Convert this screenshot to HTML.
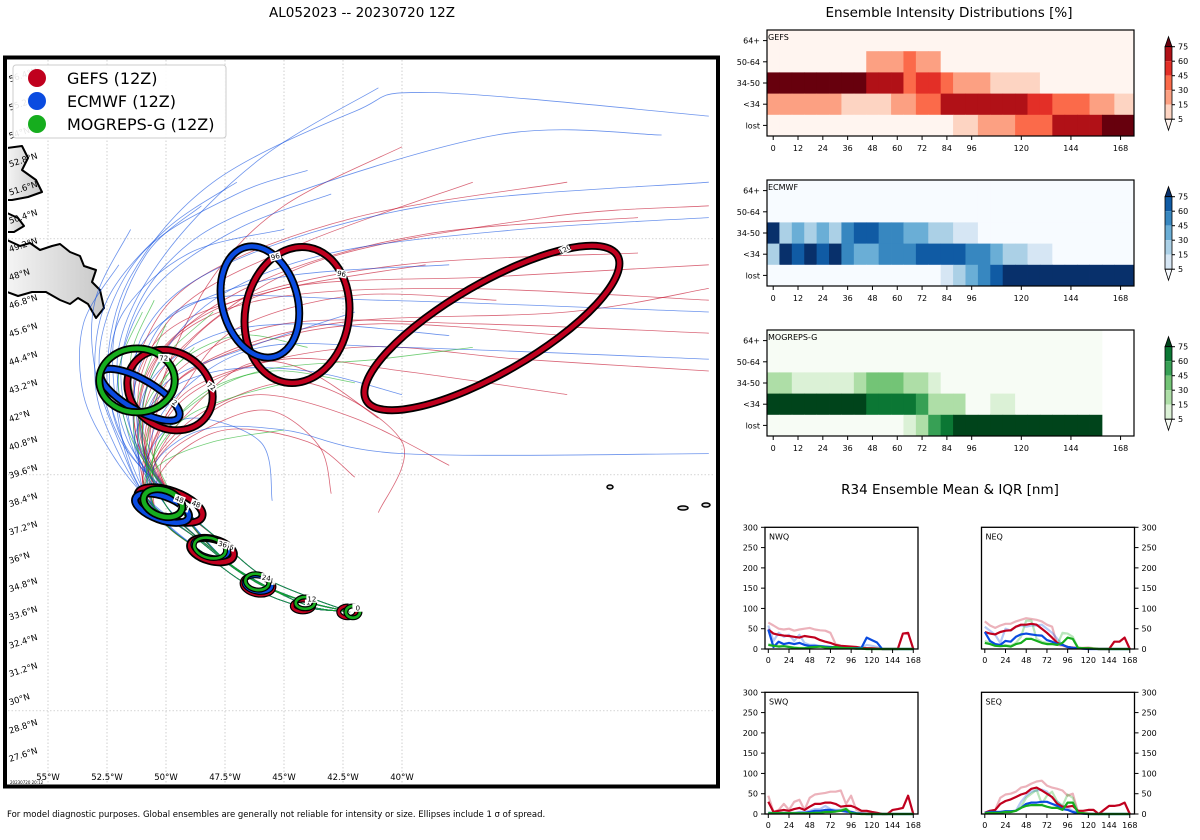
<!DOCTYPE html>
<html><head><meta charset="utf-8"><style>
html,body{margin:0;padding:0;background:#fff;}
svg{display:block;font-family:"DejaVu Sans","Liberation Sans",sans-serif;}
</style></head><body>
<svg id="root" width="1200" height="840" viewBox="0 0 1200 840" xmlns="http://www.w3.org/2000/svg">
<text x="362" y="17" font-size="13.5" text-anchor="middle">AL052023 -- 20230720 12Z</text>
<text x="949" y="17" font-size="13.5" text-anchor="middle">Ensemble Intensity Distributions [%]</text>
<text x="950" y="494" font-size="13.5" text-anchor="middle">R34 Ensemble Mean &amp; IQR [nm]</text>
<text x="7" y="817" font-size="8.5">For model diagnostic purposes. Global ensembles are generally not reliable for intensity or size. Ellipses include 1 σ of spread.</text>
<defs><clipPath id="mapclip"><rect x="8" y="60" width="707" height="725"/></clipPath>
<linearGradient id="landg" x1="0" y1="0" x2="1" y2="0"><stop offset="0" stop-color="#f4f4f4"/><stop offset="1" stop-color="#c8c8c8"/></linearGradient></defs>
<g id="map"></g>
<g id="heat"></g>
<g id="r34"></g>
</svg>
<script>
// ---------- DATA ----------
const COL = {G:'#c0001e', E:'#0a4be0', M:'#16ad1e'};
const prefixA = [[-42.2,33.8],[-44,34.2],[-46.1,35],[-48,36.4],[-50,38.3]];
const prefixB = [[-42.2,33.8],[-44.2,34.0],[-46.3,34.8],[-48.3,36.2],[-50.4,38.0]];
const prefixC = [[-42.2,33.8],[-43.9,34.4],[-45.9,35.3],[-47.7,36.8],[-49.7,38.6]];
const prefixD = [[-42.2,33.8],[-44.3,34.3],[-46.6,35.3],[-48.7,36.9],[-50.8,38.6]];
const prefixE = [[-42.2,33.8],[-43.8,34.0],[-45.6,34.8],[-47.5,36.0],[-49.3,38.0]];
const gefsTracks = [
 [[-51,41],[-51,44],[-49,47],[-44,49.5],[-37,52]],
 [[-51.2,41],[-50.5,44.5],[-47,47],[-40,48.5],[-30,49]],
 [[-51,41.5],[-50,45],[-46,47],[-38,47.5],[-27,47]],
 [[-50.8,41],[-49.5,44],[-45,46],[-37,46],[-27,45.6]],
 [[-50.5,40.5],[-49,43],[-45,44.5],[-40,44],[-33,43]],
 [[-50.5,40],[-48.5,42],[-46,43],[-42,42],[-38,40]],
 [[-50.7,41],[-50,44],[-48,48],[-45,51],[-40,53.5]],
 [[-51,41],[-49.8,44.5],[-44,48.5],[-34,50.5],[-27,51]],
 [[-50.3,40.5],[-48,42.5],[-44,43.5],[-40,41],[-41,38]],
 [[-50.6,41],[-49,44],[-43,46],[-33,46.5],[-27,47.5]],
 [[-51.3,41.5],[-51,45],[-48.5,48],[-42,50.5],[-33,52]],
 [[-50,40],[-47.5,41.5],[-44,41],[-42,39.5]],
 [[-50.9,41.2],[-49.2,45],[-45,47.5],[-36,48],[-27,48.5]],
 [[-50.6,40.8],[-48.5,43.5],[-42,45],[-35,44.5],[-27,44]],
 [[-51.1,41.3],[-50.2,44.8],[-46,47.8],[-39,49.8],[-30,50.5]],
 [[-50.9,40.8],[-49.6,43.5],[-46,45.2],[-41,46],[-33,45.5]],
 [[-50.4,40.3],[-48.8,42.5],[-46.5,44.3],[-44,44],[-41,42]],
 [[-51.2,41],[-51.2,43.8],[-49.5,46],[-45,47.5],[-39,48.5]],
 [[-50.7,40.6],[-49.3,43.2],[-47,45.8],[-42,47.2],[-36,47]],
 [[-50.2,40.1],[-47.8,41.8],[-45.5,42.3],[-43.5,40.8],[-43,38.8]]
];
const ecmwfTracks = [
 [[-51.5,41],[-52,45],[-50,49],[-46,53],[-41,56]],
 [[-51.8,41],[-52.5,44],[-51.5,48],[-48,52],[-42,55],[-38.8,55.8],[-27,54.8]],
 [[-51.5,41.5],[-51.8,45],[-50,48.5],[-46,51],[-36,54],[-29,54]],
 [[-52,41],[-53,44],[-53,47],[-51.5,50]],
 [[-51,41],[-50.5,44],[-48,47],[-43,49],[-35,50],[-27,50.5]],
 [[-51.3,41],[-51,44.5],[-48.5,47],[-41,47],[-27,46.5]],
 [[-50.8,40.5],[-49.5,43],[-46,45],[-40,45],[-27,44.5]],
 [[-50.5,40],[-48.5,41.5],[-45,41.5],[-40,40.5],[-27,40.5]],
 [[-52.3,40.5],[-53.5,43],[-53.5,46],[-52,48.5]],
 [[-51.6,41],[-52,44],[-50.5,47.5],[-47,50],[-43,51.5]],
 [[-51,41],[-50,43.5],[-46.5,45],[-42,46.5]],
 [[-50.7,40.5],[-49,42],[-46,41],[-45.5,38.5]],
 [[-52,41.2],[-52.8,45],[-51,49],[-47,51.5],[-44,52.5]],
 [[-51.2,41.3],[-51,45.5],[-47.5,48.5],[-39,51],[-27,52]],
 [[-51.7,40.8],[-52.4,43.5],[-51.8,46.5],[-49,49],[-45,50]],
 [[-51.4,41.1],[-51.5,44.2],[-49.5,46.5],[-45,48],[-38,48.5]],
 [[-52.1,40.7],[-53,43.5],[-52.5,47],[-50,50],[-47,52]],
 [[-51.1,40.8],[-50.7,43.5],[-48,45.5],[-44,46],[-38,45.5]],
 [[-51.9,41.3],[-52.2,45.5],[-50.8,49],[-48.5,51]],
 [[-51.3,40.6],[-50.4,42.8],[-47.8,44],[-44,44],[-40,43]]
];
const mogTracks = [
 [[-51,41],[-50.5,44],[-48,46.5]],
 [[-50.5,40.5],[-49,42.5],[-46,44],[-41,44.5],[-37,45]],
 [[-51.3,41],[-51,43.5],[-50,46]],
 [[-50.3,40],[-48,41],[-45,41.5]],
 [[-51,41.5],[-51.5,44.5],[-50.5,47]],
 [[-50.5,40.5],[-48.5,43],[-45.5,44],[-42,43.5]],
 [[-50.8,41],[-49.8,44],[-47,45.5],[-44,45]],
 [[-51.5,41.2],[-52,44],[-51,46.5]],
 [[-50.6,40.2],[-49.2,42],[-46.8,43],[-43.5,43.8]],
 [[-51.1,40.9],[-50.6,43],[-48.8,45]]
];
const ellModel = ['G','G','E','G','E','M','G','E','M','G','E','M','G','E','M','G','M','G','M'];
const ellHour  = [120,96,96,72,72,72,48,48,48,36,36,36,24,24,24,12,12,0,0];
const ellLon = [-36.19,-44.45,-46.02,-49.83,-51.1,-51.23,-49.83,-50.17,-50.13,-48.05,-48.1,-48.14,-46.1,-46.1,-46.14,-44.2,-44.1,-42.3,-42.08];
const ellLat = [45.82,46.37,46.92,43.19,42.99,43.6,38.32,38.19,38.4,36.41,36.5,36.5,34.93,34.97,35.06,34.04,34.17,33.79,33.79];
const ellRx = [6.14,2.2,1.6,1.9,1.9,1.6,1.45,1.2,0.85,0.95,0.78,0.68,0.68,0.6,0.5,0.45,0.4,0.38,0.3];
const ellRy = [1.9,2.9,2.4,1.6,0.64,1.35,0.6,0.5,0.55,0.47,0.38,0.42,0.42,0.34,0.34,0.25,0.25,0.25,0.25];
const ellRot = [-30,10,-15,35,30,0,20,20,20,15,15,15,10,10,10,0,0,0,0];
const latTicks = [27.6,28.8,30,31.2,32.4,33.6,34.8,36,37.2,38.4,39.6,40.8,42,43.2,44.4,45.6,46.8,48,49.2,50.4,51.6,52.8,54,55.2,56.4];
const lonTicks = [-55,-52.5,-50,-47.5,-45,-42.5,-40];

const heatRows = ['64+','50-64','34-50','<34','lost'];
const heatTicks = [0,12,24,36,48,60,72,84,96,120,144,168];
const gefs64 = [0,0,0,0,0,0,0,0,0,0,0,0,0,0,0,0,0,0,0,0,0,0,0,0,0,0,0,0,0];
const gefs50 = [0,0,0,0,0,0,0,0,20,20,20,35,20,20,0,0,0,0,0,0,0,0,0,0,0,0,0,0,0];
const gefs34 = [80,80,80,80,80,80,80,80,65,65,65,35,50,50,35,20,20,20,10,10,10,10,0,0,0,0,0,0,0];
const gefsTS = [20,20,20,20,20,20,10,10,10,10,20,20,35,35,65,65,65,65,65,65,65,50,50,35,35,35,20,20,10];
const gefsLost=[0,0,0,0,0,0,0,0,0,0,0,0,0,0,0,10,10,20,20,20,35,35,35,65,65,65,65,80,80];
const ecm64 = [0,0,0,0,0,0,0,0,0,0,0,0,0,0,0,0,0,0,0,0,0,0,0,0,0,0,0,0,0];
const ecm50 = [0,0,0,0,0,0,0,0,0,0,0,0,0,0,0,0,0,0,0,0,0,0,0,0,0,0,0,0,0];
const ecm34 = [80,20,35,20,35,20,50,65,65,50,50,35,35,20,20,10,10,0,0,0,0,0,0,0,0,0,0,0,0];
const ecmTS = [20,80,65,80,65,80,50,35,35,50,50,50,65,65,65,65,50,50,35,20,20,10,10,0,0,0,0,0,0];
const ecmLost=[0,0,0,0,0,0,0,0,0,0,0,0,0,0,10,20,35,50,65,80,80,80,80,80,80,80,80,80,80];
const mog64 = [0,0,0,0,0,0,0,0,0,0,0,0,0,0,0,0,0,0,0,0,0,0,0,0,0,0,0,null,null];
const mog50 = [0,0,0,0,0,0,0,0,0,0,0,0,0,0,0,0,0,0,0,0,0,0,0,0,0,0,0,null,null];
const mog34 = [20,20,10,10,10,10,10,20,35,35,35,20,20,10,0,0,0,0,0,0,0,0,0,0,0,0,0,null,null];
const mogTS = [80,80,80,80,80,80,80,80,65,65,65,65,50,20,20,20,0,0,10,10,0,0,0,0,0,0,0,null,null];
const mogLost=[0,0,0,0,0,0,0,0,0,0,0,10,20,50,65,80,80,80,80,80,80,80,80,80,80,80,80,null,null];
const cbTicks = [5,15,30,45,60,75];

const r34Hours = [0,6,12,18,24,30,36,42,48,54,60,66,72,78,84,90,96,102,108,114,120,126,132,138,144,150,156,162,168];
const r34Ticks = [0,24,48,72,96,120,144,168];
const r34YTicks = [0,50,100,150,200,250,300];
const nwRed   = [48,38,35,33,32,30,28,32,30,28,22,18,15,10,8,7,6,5,3,2,2,1,0,0,0,0,38,40,0];
const nwRedQ  = [65,58,50,48,50,45,48,50,52,48,46,45,40,12,8,6,5,3,2,2,1,0,0,0,0,0,0,0,0];
const nwBlue  = [48,5,18,12,15,12,15,10,8,8,7,6,5,4,3,2,2,2,3,28,22,16,0,0,0,0,0,0,0];
const nwBlueQ = [58,20,40,30,35,20,35,15,10,10,8,6,5,5,4,3,2,2,3,10,8,5,0,0,0,0,0,0,0];
const nwGrn   = [10,8,6,7,5,3,2,2,4,5,6,4,3,5,3,2,2,1,1,0,0,0,0,0,0,0,0,0,0];
const nwGrnQ  = [12,10,8,8,6,4,3,3,5,6,7,5,4,6,4,3,2,1,1,0,0,0,0,0,0,0,0,0,0];
const neRed   = [42,38,36,42,45,46,55,60,60,62,60,50,40,28,15,10,5,3,2,2,2,1,0,0,0,18,18,28,0];
const neRedQ  = [68,58,52,58,62,62,68,72,76,74,72,68,60,55,10,8,5,4,3,3,4,2,0,0,0,0,0,0,0];
const neBlue  = [42,20,12,10,20,18,30,36,38,36,34,33,22,18,12,10,5,3,2,1,0,0,0,0,0,0,0,0,0];
const neBlueQ = [55,45,35,15,50,45,55,58,55,58,58,60,50,40,25,10,5,3,2,1,0,0,0,0,0,0,0,0,0];
const neGrn   = [15,12,8,7,8,6,12,15,25,25,20,15,12,12,10,15,28,25,3,2,2,1,0,0,0,0,0,0,0];
const neGrnQ  = [20,15,10,8,10,8,15,30,70,70,25,18,15,12,10,40,38,30,3,2,2,1,0,0,0,0,0,0,0];
const swRed   = [30,5,8,10,8,12,15,10,18,25,25,28,28,25,18,20,20,15,8,8,5,3,0,0,10,12,15,45,0];
const swRedQ  = [45,5,10,25,10,30,35,10,40,48,50,52,55,55,58,25,45,10,5,3,2,0,0,0,0,0,0,0,0];
const swBlue  = [2,2,2,2,2,2,3,3,5,8,8,10,10,8,8,6,5,2,1,0,0,0,0,0,0,0,0,0,0];
const swBlueQ = [4,3,3,3,3,3,5,5,8,12,12,20,12,10,10,8,6,3,1,0,0,0,0,0,0,0,0,0,0];
const swGrn   = [2,2,2,2,2,2,2,2,2,3,3,5,5,6,8,12,2,1,0,0,0,0,0,0,0,0,0,0,0];
const swGrnQ  = [3,3,3,3,3,3,3,3,3,4,4,6,6,8,10,15,3,1,0,0,0,0,0,0,0,0,0,0,0];
const seRed   = [3,8,10,25,32,36,42,48,52,62,65,58,50,42,25,18,18,20,8,8,10,10,0,10,20,20,22,28,0];
const seRedQ  = [3,8,10,40,48,50,55,65,68,75,80,82,70,65,62,58,45,50,5,3,2,0,0,0,0,0,0,0,0];
const seBlue  = [3,5,5,5,7,7,8,15,25,28,28,30,30,25,20,12,10,5,2,1,0,0,0,0,0,0,0,0,0];
const seBlueQ = [3,5,5,5,7,7,8,30,45,55,58,60,55,40,30,20,15,8,3,1,0,0,0,0,0,0,0,0,0];
const seGrn   = [2,3,3,3,5,5,8,15,20,22,22,22,18,15,15,10,28,28,3,2,0,0,0,0,0,0,0,0,0];
const seGrnQ  = [2,3,3,3,5,5,8,18,40,50,60,25,45,55,30,20,48,40,3,2,0,0,0,0,0,0,0,0,0];

// ---------- HELPERS ----------
const NS='http://www.w3.org/2000/svg';
function mk(tag, attrs, parent){const e=document.createElementNS(NS,tag);for(const k in attrs)e.setAttribute(k,attrs[k]);parent.appendChild(e);return e;}
function px(lon){return 48+(lon+55)*23.6;}
function py(lat){return 758-(lat-27.6)*23.6;}
function smooth(pts){ // Catmull-Rom to cubic bezier
 let d='M'+pts[0][0].toFixed(1)+','+pts[0][1].toFixed(1);
 for(let i=0;i<pts.length-1;i++){
  const p0=pts[i-1]||pts[i],p1=pts[i],p2=pts[i+1],p3=pts[i+2]||p2;
  const c1=[p1[0]+(p2[0]-p0[0])/6,p1[1]+(p2[1]-p0[1])/6],c2=[p2[0]-(p3[0]-p1[0])/6,p2[1]-(p3[1]-p1[1])/6];
  d+=` C${c1[0].toFixed(1)},${c1[1].toFixed(1)} ${c2[0].toFixed(1)},${c2[1].toFixed(1)} ${p2[0].toFixed(1)},${p2[1].toFixed(1)}`;
 }
 return d;
}

// ---------- MAP ----------
const map=document.getElementById('map');
const clipG=mk('g',{'clip-path':'url(#mapclip)'},map);
lonTicks.forEach(l=>{const ln=mk('line',{x1:px(l),x2:px(l),y1:60,y2:785,stroke:'#bbb','stroke-width':0.7,'stroke-dasharray':'1.5,2'},clipG);

});
[29.6,39.6,49.6].forEach(l=>{const ln=mk('line',{x1:8,x2:715,y1:py(l),y2:py(l),stroke:'#bbb','stroke-width':0.7,'stroke-dasharray':'1.5,2'},clipG);

});
const landPts=[
 '7,148 22,146 28,158 22,170 36,180 42,192 28,197 12,200 7,200',
 '7,213 18,218 24,226 14,232 7,232',
 '7,240 20,246 30,243 40,250 52,246 60,244 70,252 80,256 84,266 96,270 92,282 100,290 104,308 96,318 88,304 78,298 70,304 60,300 46,292 32,292 18,296 7,292'
];
landPts.forEach(p=>{const pg=mk('polygon',{points:p,fill:'url(#landg)',stroke:'#000','stroke-width':2,'stroke-linejoin':'round'},clipG);

});
[[610,487,3,2],[683,508,5,2],[706,505,4,2]].forEach(a=>{const e=mk('ellipse',{cx:a[0],cy:a[1],rx:a[2],ry:a[3],fill:'#ddd',stroke:'#000','stroke-width':1.5},clipG);

});
function drawTracks(list, color, name){
 const prefixes=[prefixA,prefixB,prefixC,prefixD,prefixE];
 list.forEach((t,i)=>{
  const pts=prefixes[i%5].concat(t).map(p=>[px(p[0]),py(p[1])]);
  const path=mk('path',{d:smooth(pts),fill:'none',stroke:color,'stroke-width':0.8,'stroke-opacity':0.6},clipG);
  
  
 });
}
drawTracks(gefsTracks,COL.G,'gefs-track');
drawTracks(ecmwfTracks,COL.E,'ecmwf-track');
drawTracks(mogTracks,COL.M,'mogreps-track');
ellModel.forEach((m,i)=>{
 const cx=px(ellLon[i]),cy=py(ellLat[i]),rx=ellRx[i]*23.6,ry=ellRy[i]*23.6;
 const g=mk('g',{transform:`translate(${cx.toFixed(1)},${cy.toFixed(1)}) rotate(${ellRot[i]})`},clipG);
 
 
 const big=rx>20;
 mk('ellipse',{cx:0,cy:0,rx:rx,ry:ry,fill:'none',stroke:'#000','stroke-width':big?8:5},g);
 mk('ellipse',{cx:0,cy:0,rx:rx,ry:ry,fill:'none',stroke:COL[m],'stroke-width':big?4.5:2.6},g);
 const a=-Math.PI/4;const lx=rx*Math.cos(a),ly=ry*Math.sin(a);
 mk('rect',{x:lx-5.5,y:ly-4,width:11,height:8,fill:'#fff'},g);
 const t=mk('text',{x:lx,y:ly+2.6,'font-size':7,'text-anchor':'middle'},g);t.textContent=ellHour[i];
 
 
});
latTicks.forEach(l=>{const y=py(l);if(y<75||y>770)return;
 const t=mk('text',{x:0,y:0,'font-size':8.5,transform:`translate(10,${(y+4).toFixed(1)}) rotate(-18)`},map);
 t.textContent=l+'°N';
 
 });
lonTicks.forEach(l=>{const t=mk('text',{x:px(l),y:780,'font-size':8.5,'text-anchor':'middle'},map);
 t.textContent=Math.abs(l)+'°W';
 
 });
const stamp=mk('text',{x:10,y:784,'font-size':4},map);stamp.textContent='20230720 20:12';


const frame=mk('rect',{x:5,y:57.5,width:713,height:729,fill:'none',stroke:'#000','stroke-width':4},map);


const leg=mk('g',{},map);


mk('rect',{x:13,y:65,width:213,height:73,rx:3,fill:'#fff','fill-opacity':0.9,stroke:'#ccc','stroke-width':1},leg);
[['GEFS (12Z)',COL.G],['ECMWF (12Z)',COL.E],['MOGREPS-G (12Z)',COL.M]].forEach((e,i)=>{
 const g=mk('g',{},leg);
 
 
 mk('circle',{cx:37,cy:78+i*23,r:9,fill:e[1]},g);
 const t=mk('text',{x:67,y:84+i*23,'font-size':16},g);t.textContent=e[0];
});

// ---------- HEATMAPS ----------
const heat=document.getElementById('heat');
const palettes={
 G:['#fff5f0','#fdd4c2','#fca082','#fb6a4a','#e32f27','#b11117','#67000d'],
 E:['#f7fbff','#d6e6f4','#abd0e6','#6aaed6','#3787c0','#105ba4','#08306b'],
 M:['#f7fcf5','#dbf1d6','#aedea7','#73c476','#37a055','#0b7734','#00441b']};
function cls(v){if(v<5)return 0;if(v<15)return 1;if(v<30)return 2;if(v<45)return 3;if(v<60)return 4;if(v<75)return 5;return 6;}
const HX0=767,HX1=1134;function hx(h){return HX0+(h+3)*(HX1-HX0)/177.5;}
function drawHeat(y0,rows,pal,label,name){
 const g=mk('g',{},heat);
 
 
 const rh=106/5;
 rows.forEach((row,r)=>{row.forEach((v,i)=>{if(v===null)return;
  const x0=hx(r34Hours[i]-3),x1=(i===row.length-1)?HX1:hx(r34Hours[i]+3);
  const c=mk('rect',{x:x0.toFixed(2),y:(y0+r*rh).toFixed(2),width:(x1-x0+0.4).toFixed(2),height:(rh+0.4).toFixed(2),fill:pal[cls(v)]},g);
  
  });});
 mk('rect',{x:HX0,y:y0,width:HX1-HX0,height:106,fill:'none',stroke:'#000','stroke-width':1.2},g);
 const lt=mk('text',{x:HX0+1,y:y0+10,'font-size':8},g);lt.textContent=label;
 heatRows.forEach((r,i)=>{const yy=y0+i*rh+rh/2;
  mk('line',{x1:HX0-4,x2:HX0,y1:yy,y2:yy,stroke:'#000'},g);
  const t=mk('text',{x:HX0-7,y:yy+3,'font-size':8,'text-anchor':'end'},g);t.textContent=r;});
 heatTicks.forEach(h=>{const xx=hx(h);
  mk('line',{x1:xx,x2:xx,y1:y0+106,y2:y0+110,stroke:'#000'},g);
  const t=mk('text',{x:xx,y:y0+121,'font-size':8,'text-anchor':'middle'},g);t.textContent=h;});
 const cb=mk('g',{},g);
 
 
 const cx=1165,cw=7,top=y0+16.7,seg=14.5;
 mk('polygon',{points:`${cx},${top} ${cx+cw},${top} ${cx+cw/2},${top-10}`,fill:pal[6],stroke:'#000','stroke-width':0.8},cb);
 for(let k=0;k<5;k++)mk('rect',{x:cx,y:top+k*seg,width:cw,height:seg,fill:pal[5-k]},cb);
 const bot=top+5*seg;
 mk('polygon',{points:`${cx},${bot} ${cx+cw},${bot} ${cx+cw/2},${bot+11}`,fill:pal[0],stroke:'#000','stroke-width':0.8},cb);
 mk('rect',{x:cx,y:top,width:cw,height:5*seg,fill:'none',stroke:'#000','stroke-width':0.8},cb);
 cbTicks.slice().reverse().forEach((v,k)=>{const yy=top+k*seg;
  mk('line',{x1:cx+cw,x2:cx+cw+3,y1:yy,y2:yy,stroke:'#000'},cb);
  const t=mk('text',{x:cx+cw+6,y:yy+3,'font-size':8},cb);t.textContent=v;});
}
drawHeat(30,[gefs64,gefs50,gefs34,gefsTS,gefsLost],palettes.G,'GEFS','gefs-heatmap');
drawHeat(180,[ecm64,ecm50,ecm34,ecmTS,ecmLost],palettes.E,'ECMWF','ecmwf-heatmap');
drawHeat(330,[mog64,mog50,mog34,mogTS,mogLost],palettes.M,'MOGREPS-G','mogreps-heatmap');

// ---------- R34 ----------
const r34=document.getElementById('r34');
function drawR34(x0,y0,label,right,series,name){
 const w=153,h=121.7;
 const g=mk('g',{},r34);
 
 
 const sx=hv=>x0+3.3+hv*0.863, sy=v=>y0+h-v*h/300;
 series.forEach(s=>{
  const d=s.v.map((v,i)=>(i?'L':'M')+sx(r34Hours[i]).toFixed(1)+','+sy(v).toFixed(1)).join(' ');
  const p=mk('path',{d:d,fill:'none',stroke:s.c,'stroke-width':2.2,'stroke-opacity':s.o,'stroke-linejoin':'round'},g);
  
  
 });
 mk('rect',{x:x0,y:y0,width:w,height:h,fill:'none',stroke:'#000','stroke-width':1.3},g);
 const lt=mk('text',{x:x0+4,y:y0+12,'font-size':8},g);lt.textContent=label;
 r34YTicks.forEach(v=>{const yy=sy(v);
  const ax=right?x0+w:x0;
  mk('line',{x1:right?ax:ax-4,x2:right?ax+4:ax,y1:yy,y2:yy,stroke:'#000'},g);
  const t=mk('text',{x:right?ax+7:ax-7,y:yy+3,'font-size':8,'text-anchor':right?'start':'end'},g);t.textContent=v;});
 r34Ticks.forEach(hh=>{const xx=sx(hh);
  mk('line',{x1:xx,x2:xx,y1:y0+h,y2:y0+h+4,stroke:'#000'},g);
  const t=mk('text',{x:xx,y:y0+h+14,'font-size':8,'text-anchor':'middle'},g);t.textContent=hh;});
}
function ser(r,rq,b,bq,gn,gq){return [
 {v:rq,c:COL.G,o:0.3,n:'gefs-iqr-line'},{v:bq,c:COL.E,o:0.3,n:'ecmwf-iqr-line'},{v:gq,c:COL.M,o:0.3,n:'mogreps-iqr-line'},
 {v:r,c:COL.G,o:1,n:'gefs-mean-line'},{v:b,c:COL.E,o:1,n:'ecmwf-mean-line'},{v:gn,c:COL.M,o:1,n:'mogreps-mean-line'}];}
drawR34(765,527.3,'NWQ',false,ser(nwRed,nwRedQ,nwBlue,nwBlueQ,nwGrn,nwGrnQ),'nwq-panel');
drawR34(981.5,527.3,'NEQ',true,ser(neRed,neRedQ,neBlue,neBlueQ,neGrn,neGrnQ),'neq-panel');
drawR34(765,692.3,'SWQ',false,ser(swRed,swRedQ,swBlue,swBlueQ,swGrn,swGrnQ),'swq-panel');
drawR34(981.5,692.3,'SEQ',true,ser(seRed,seRedQ,seBlue,seBlueQ,seGrn,seGrnQ),'seq-panel');
</script>
</body></html>
